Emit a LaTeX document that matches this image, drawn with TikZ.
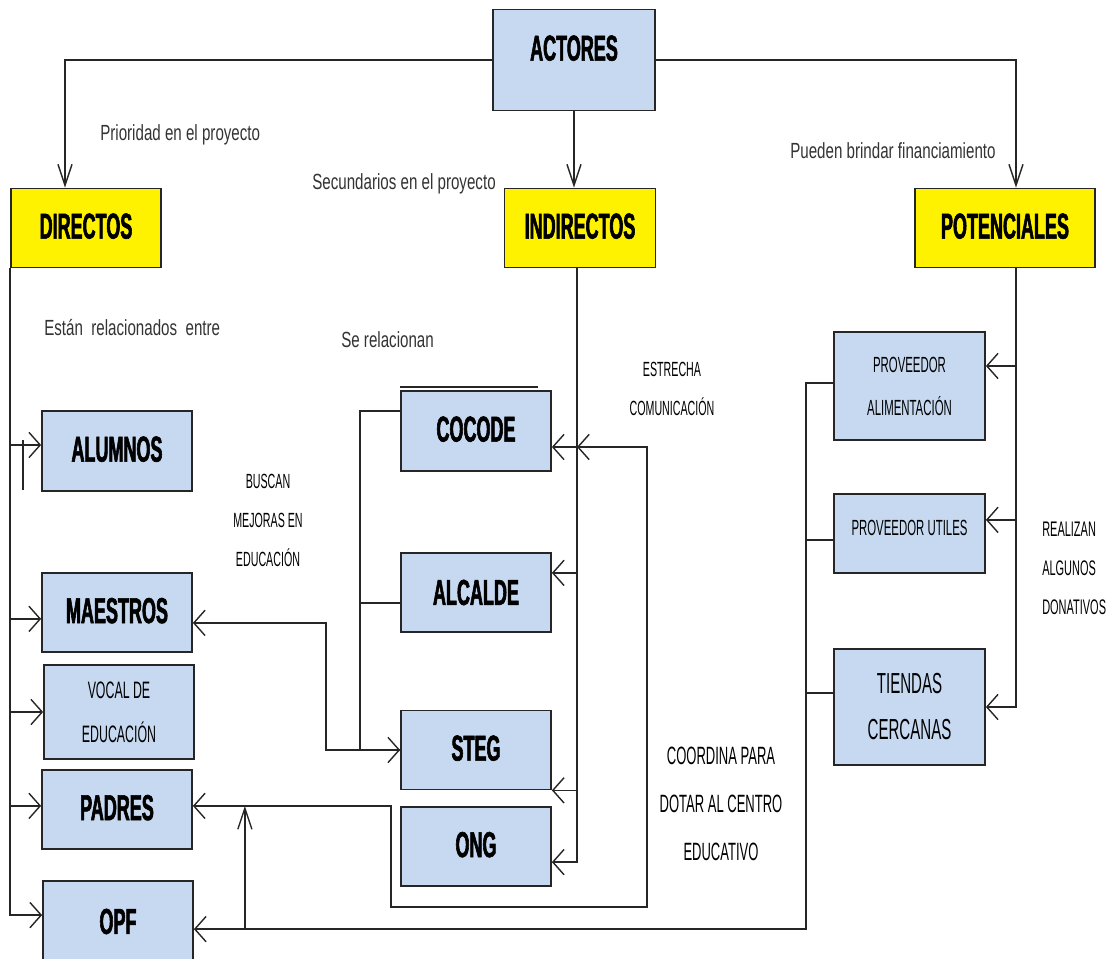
\documentclass[tikz,border=0pt]{standalone}
\usepackage{fontspec}
\setmainfont{Liberation Sans}
\newfontfamily\condfont[FakeStretch=0.52]{Liberation Sans}
\newfontfamily\boxfont[FakeStretch=0.5,FakeBold=1.6]{Liberation Sans Bold}
\newfontfamily\notefont[FakeStretch=0.69]{Liberation Sans}
\usetikzlibrary{arrows.meta}
\definecolor{cajaazul}{RGB}{198,217,240}

\begin{document}
\begin{tikzpicture}[x=0.025cm, y=-0.025cm,
            actor/.style={rectangle, draw=black!85, line width=1.2pt, fill=cajaazul, inner sep=0pt, minimum width=3.75cm, minimum height=1.975cm, font=\boxfont\fontsize{25.6}{30}\selectfont},
            grupo/.style={actor, fill=yellow},
            subactor/.style={actor, align=center, font=\condfont\fontsize{15.6}{30.6}\selectfont},
            nota/.style={anchor=west, inner sep=0pt, text=black!80, font=\notefont\fontsize{15.6}{18}\selectfont},
            etiq/.style={align=center, inner sep=0pt, font=\condfont\fontsize{14.6}{27.7}\selectfont},
            linea/.style={line width=1pt, draw=black!85},
            harr/.style={linea, -{Straight Barb[length=8pt,width=18pt]}},
            dharr/.style={linea, {Straight Barb[length=8pt,width=18pt]}-{Straight Barb[length=8pt,width=18pt]}},
            varr/.style={linea, -{Straight Barb[length=15pt,width=10pt]}}
        ]
        \useasboundingbox (0,0) rectangle (1120,959);

        % Nivel 1: Actores
        \node[actor, minimum width=4.05cm, minimum height=2.525cm, text depth=0.6cm] (actores) at (574,60) {ACTORES};

        % Nivel 2: Tipos de actores
        \node[grupo, text depth=0.1cm] (directos) at (86,228) {DIRECTOS};
        \node[grupo, minimum width=3.775cm, text depth=0.1cm] (indirectos) at (580,228) {INDIRECTOS};
        \node[grupo, minimum width=4.5cm, text depth=0.1cm] (potenciales) at (1005,228) {POTENCIALES};

        % Nivel 3: Actores directos
        \node[actor, minimum height=2cm, text depth=0.1cm] (alumnos) at (117,451) {ALUMNOS};
        \node[actor, text depth=0.1cm] (maestros) at (117,612.5) {MAESTROS};
        \node[subactor, minimum height=2.35cm, font=\condfont\fontsize{16.9}{31.3}\selectfont] (vocal) at (119,712) {VOCAL DE\\EDUCACIÓN};
        \node[actor, text depth=0.1cm] (padres) at (117,809.5) {PADRES};
        \node[actor, minimum height=2.025cm] (opf) at (118,921.5) {OPF};

        % Nivel 3: Actores indirectos
        \node[actor, minimum height=2cm, text depth=0.1cm] (cocode) at (476,431) {COCODE};
        \node[actor] (alcalde) at (476,592.5) {ALCALDE};
        \node[actor, text depth=0.1cm] (steg) at (476,750) {STEG};
        \node[actor, text depth=0.1cm] (ong) at (476,846.5) {ONG};

        % Nivel 3: Actores potenciales
        \node[subactor, minimum width=3.775cm, minimum height=2.7cm] (provalim) at (909.5,386) {PROVEEDOR\\ALIMENTACIÓN};
        \node[subactor, minimum width=3.775cm, text depth=0.3cm] (provutil) at (909.5,533.5) {PROVEEDOR UTILES};
        \node[subactor, minimum width=3.775cm, minimum height=2.9cm, font=\condfont\fontsize{20.6}{32.7}\selectfont] (tiendas) at (909.5,707) {TIENDAS\\CERCANAS};

        % Textos
        \node[nota] (prioridad) at (100,135) {Prioridad en el proyecto};
        \node[nota] (secundarios) at (312,184) {Secundarios en el proyecto};
        \node[nota] (pueden) at (790,151) {Pueden brindar financiamiento};
        \node[nota] (estan) at (44,328) {Están\ \ relacionados\ \ entre};
        \node[nota] (serelacionan) at (341,340) {Se relacionan};
        \node[etiq] (buscan) at (268,520) {BUSCAN\\MEJORAS EN\\EDUCACIÓN};
        \node[etiq] (estrecha) at (672,389) {ESTRECHA\\COMUNICACIÓN};
        \node[etiq, font=\condfont\fontsize{17.8}{34.1}\selectfont] (coordina) at (721,804) {COORDINA PARA\\DOTAR AL CENTRO\\EDUCATIVO};
        \node[etiq, anchor=west, align=left, font=\condfont\fontsize{15}{27.7}\selectfont] (realizan) at (1042,568) {REALIZAN\\ALGUNOS\\DONATIVOS};

        % Conexiones desde actores
        \draw[varr] (actores.west) -| ([xshift=-0.525cm]directos.north);
        \draw[varr] (actores.south) -- (actores.south |- indirectos.north);
        \draw[varr] (actores.east) -| ([xshift=0.275cm]potenciales.north);

        % Directos
        \draw[harr] (directos.south west) |- ([yshift=0.16cm]opf.west);
        \foreach \caja/\dy in {alumnos/0.15, maestros/-0.16, vocal/0, padres/0.09} {
            \coordinate (entra) at ([yshift=\dy cm]\caja.west);
            \draw[harr] (directos.south west |- entra) -- (entra);
        }
        \draw[linea] (23,440) -- (23,490);

        % Indirectos
        \coordinate (itronco) at ([xshift=-0.075cm]indirectos.south);
        \coordinate (cocin) at ([yshift=-0.4cm]cocode.east);
        \coordinate (alcin) at ([yshift=0.49cm]alcalde.east);
        \draw[harr] (itronco) |- ([yshift=-0.39cm]ong.east);
        \draw[harr] (itronco |- cocin) -- (cocin);
        \draw[harr] (itronco |- alcin) -- (alcin);
        \draw[harr] (itronco |- steg.south east) -- (steg.south east);
        \draw[linea] ([yshift=0.075cm]cocode.north west) -- ++(3.45cm,0);
        \draw[linea] ([yshift=0.5cm]cocode.west) -- ++(-1cm,0) |- (steg.west);
        \draw[linea] ([yshift=-0.26cm]alcalde.west) -- ++(-1cm,0);
        \draw[dharr] ([yshift=-0.26cm]maestros.east) -- ++(3.325cm,0) |- (steg.west);

        % Coordinacion con padres y OPF
        \coordinate (padin) at ([yshift=0.09cm]padres.east);
        \coordinate (opfin) at ([yshift=-0.19cm]opf.east);
        \draw[dharr] (itronco |- cocin) -- ++(1.75cm,0) -- ++(0,-11.5cm) -- ++(-6.4cm,0) |- (padin);
        \draw[varr] ([xshift=1.275cm]opfin) -- ([xshift=1.275cm]opfin |- padin);

        % Potenciales
        \draw[harr] ([yshift=0.075cm]provalim.west) -- ++(-0.675cm,0) |- (opfin);
        \draw[linea] ([yshift=-0.16cm]provutil.west) -- ++(-0.675cm,0);
        \draw[linea] ([yshift=0.35cm]tiendas.west) -- ++(-0.675cm,0);
        \coordinate (ptronco) at ([xshift=0.275cm]potenciales.south);
        \coordinate (palin) at ([yshift=0.5cm]provalim.east);
        \coordinate (putin) at ([yshift=0.34cm]provutil.east);
        \draw[harr] (ptronco) |- (tiendas.east);
        \draw[harr] (ptronco |- palin) -- (palin);
        \draw[harr] (ptronco |- putin) -- (putin);

    \end{tikzpicture}
\end{document}
